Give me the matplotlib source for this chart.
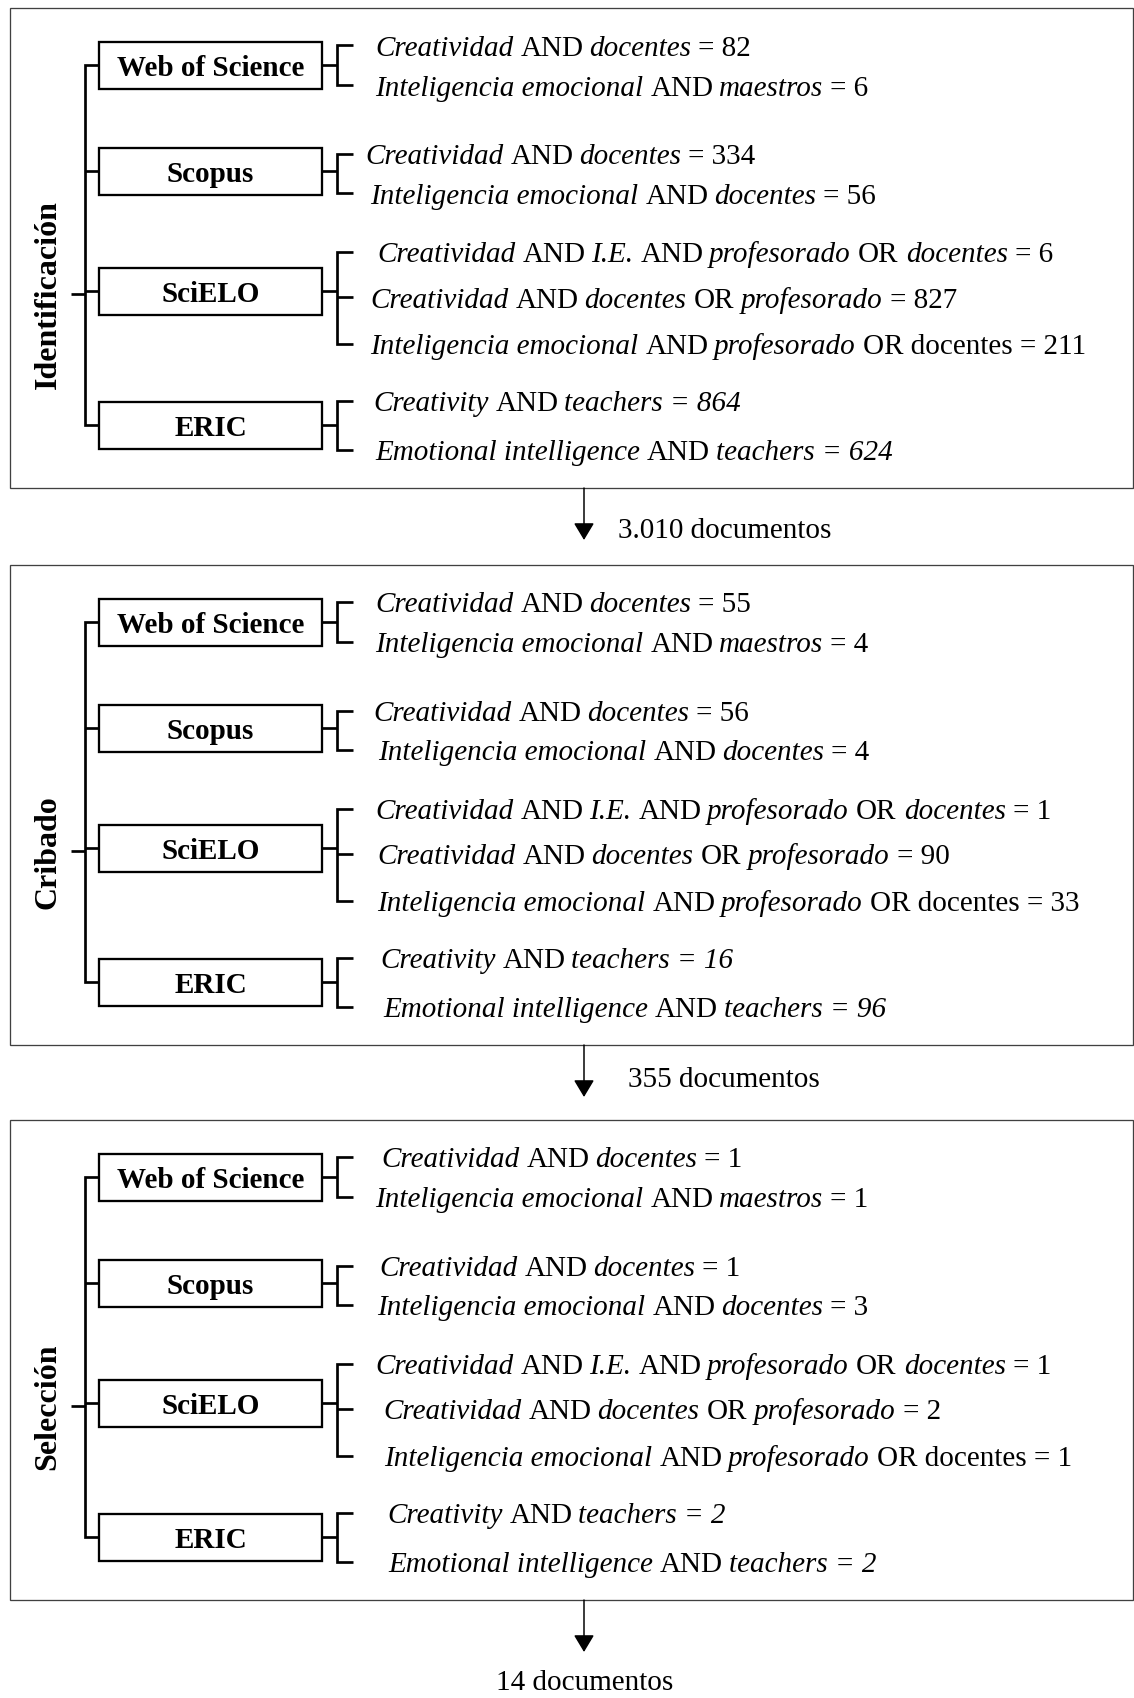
import matplotlib
matplotlib.use('Agg')
import matplotlib.pyplot as plt
from matplotlib.patches import Rectangle
from matplotlib.font_manager import FontProperties

plt.rcParams['font.family'] = 'Liberation Serif'

# data
stages = ['Identificación', 'Cribado', 'Selección']
databases = ['Web of Science', 'Scopus', 'SciELO', 'ERIC']
totals = ['3.010', '355', '14']

# search strings, text between * is italic
queries = [
    ['*Creatividad* AND *docentes* = {}',
     '*Inteligencia emocional* AND *maestros* = {}'],
    ['*Creatividad* AND *docentes* = {}',
     '*Inteligencia emocional* AND *docentes* = {}'],
    ['*Creatividad* AND *I.E.* AND *profesorado* OR *docentes* = {}',
     '*Creatividad* AND *docentes* OR *profesorado* = {}',
     '*Inteligencia emocional* AND *profesorado* OR docentes = {}'],
    ['*Creativity* AND *teachers = {}*',
     '*Emotional intelligence* AND *teachers = {}*'],
]

counts_identificacion = [[82, 6], [334, 56], [6, 827, 211], [864, 624]]
counts_cribado = [[55, 4], [56, 4], [1, 90, 33], [16, 96]]
counts_seleccion = [[1, 1], [1, 3], [1, 2, 1], [2, 2]]
counts = [counts_identificacion, counts_cribado, counts_seleccion]

# layout (pixels)
W, H = 1134, 1699
panel_top = [9, 566, 1121]
panel_h = 480
box_mid = [57, 163, 283, 417]
tick_off = [[-20, 20], [-17, 22], [-39, 6, 53], [-24, 25]]
indent = [
    [[375, 375], [365, 370], [377, 370, 370], [373, 375]],
    [[375, 375], [373, 378], [375, 377, 377], [380, 383]],
    [[381, 375], [379, 377], [375, 383, 384], [387, 388]],
]
box_x0, box_x1, box_hh = 99, 322, 23.5
trunk_x, stub_x = 85, 71
brk_x, tick_x = 337, 353
fs = 21

fig = plt.figure(figsize=(W / 100, H / 100), dpi=100)
ax = fig.add_axes([0, 0, 1, 1])
ax.set_xlim(0, W)
ax.set_ylim(H, 0)
ax.axis('off')
renderer = fig.canvas.get_renderer()

px = 0.72  # points per pixel at dpi 100


def advance(s, fp):
    w1, _, _ = renderer.get_text_width_height_descent('|' + s + '|', fp, ismath=False)
    w0, _, _ = renderer.get_text_width_height_descent('||', fp, ismath=False)
    return w1 - w0


def rich_text(x, y, s):
    parts = s.split('*')
    for k, part in enumerate(parts):
        if not part:
            continue
        style = 'italic' if k % 2 else 'normal'
        fp = FontProperties(family='Liberation Serif', style=style, size=fs)
        lead = part[:len(part) - len(part.lstrip())]
        if part.strip():
            ax.text(x + advance(lead, fp), y, part.strip(), fontproperties=fp,
                    va='baseline', ha='left', color='black')
        x += advance(part, fp)


line_kw = dict(color='black', lw=2.7 * px, solid_joinstyle='miter',
               solid_capstyle='butt', zorder=2)

for p, top in enumerate(panel_top):
    # frame
    ax.add_patch(Rectangle((9.5, top), 1123, panel_h, fill=False,
                           ec='#404040', lw=1.3 * px, zorder=1))
    mids = [top + m for m in box_mid]
    stub_y = top + 286

    # trunk
    ax.plot([box_x0, trunk_x, trunk_x, box_x0],
            [mids[0], mids[0], mids[-1], mids[-1]], **line_kw)
    for m in mids[1:-1]:
        ax.plot([trunk_x, box_x0], [m, m], **line_kw)
    ax.plot([stub_x, trunk_x], [stub_y, stub_y], **line_kw)

    ax.text(48, stub_y, stages[p], rotation=90, ha='center', va='center',
            fontsize=23, fontweight='bold')

    for d, name in enumerate(databases):
        m = mids[d]
        ax.add_patch(Rectangle((box_x0, m - box_hh), box_x1 - box_x0, 2 * box_hh,
                               fc='white', ec='black', lw=2.3 * px, zorder=3))
        ax.text((box_x0 + box_x1) / 2, m + 10, name, ha='center', va='baseline',
                fontsize=fs, fontweight='bold', zorder=4)

        ticks = [m + t for t in tick_off[d]]
        ax.plot([box_x1, brk_x], [m, m], **line_kw)
        ax.plot([tick_x, brk_x, brk_x, tick_x],
                [ticks[0], ticks[0], ticks[-1], ticks[-1]], **line_kw)
        for t in ticks[1:-1]:
            ax.plot([brk_x, tick_x], [t, t], **line_kw)

        for q, (tmpl, n) in enumerate(zip(queries[d], counts[p][d])):
            rich_text(indent[p][d][q], ticks[q] + 9.5, tmpl.format(n))

# arrows between stages
arrow_x = 584
label_pos = [(618, 538, 'left'), (628, 1087, 'left'), (585, 1690, 'center')]
for p, top in enumerate(panel_top):
    y0 = top + panel_h
    ax.annotate('', xy=(arrow_x, y0 + 52), xytext=(arrow_x, y0),
                arrowprops=dict(arrowstyle='-|>,head_length=0.5,head_width=0.3',
                                mutation_scale=21, lw=1.5 * px, color='black',
                                shrinkA=0, shrinkB=0))
    lx, ly, ha = label_pos[p]
    ax.text(lx, ly, totals[p] + ' documentos', ha=ha, va='baseline', fontsize=fs)

fig.savefig('out.png', dpi=100)
